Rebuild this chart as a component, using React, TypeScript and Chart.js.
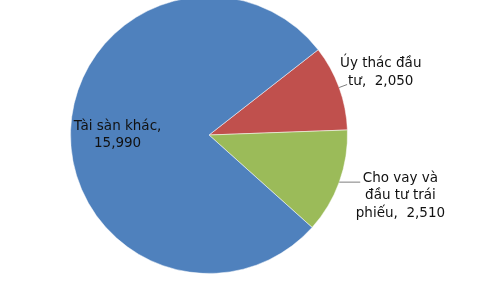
import React, { useEffect, useRef } from "react";
import { Chart, registerables } from "chart.js";

Chart.register(...registerables);

const categories = ["Úy thác đầu tư", "Cho vay và đầu tư trái phiếu", "Tài sàn khác"];
const values = [2050, 2510, 15990];
const labelLines = [
  ["Úy thác đầu", "tư,  2,050"],
  ["Cho vay và", "đầu tư trái", "phiếu,  2,510"],
  ["Tài sàn khác,", "15,990"],
];
const colors = ["#C0504D", "#9BBB59", "#4F81BD"];

// placement of each label relative to its slice (layout only)
const labelPlace = [
  { r: 1.32, angOff: 0, leader: { len: 8, dy: -3 } },
  { r: 1.45, angOff: -2.3, leader: { len: 21, dy: 0 } },
  { r: 0.66, angOff: -2, leader: null },
];

const FONT = "13.5px 'DejaVu Sans'";
const LINE_H = 17.5;

const labelPlugin = {
  id: "pieLabels",
  afterDraw(chart: any) {
    const ctx = chart.ctx;
    const meta = chart.getDatasetMeta(0);
    ctx.save();
    ctx.font = FONT;
    ctx.fillStyle = "#111111";
    ctx.textAlign = "center";
    ctx.textBaseline = "middle";
    meta.data.forEach((arc: any, i: number) => {
      const { x, y, startAngle, endAngle, outerRadius } = arc.getProps(
        ["x", "y", "startAngle", "endAngle", "outerRadius"],
        true
      );
      const place = labelPlace[i];
      const mid = (startAngle + endAngle) / 2;
      const a = mid + (place.angOff * Math.PI) / 180;
      const lx = x + Math.cos(a) * outerRadius * place.r;
      const ly = y + Math.sin(a) * outerRadius * place.r;
      const lines = labelLines[i];
      const top = ly - ((lines.length - 1) * LINE_H) / 2;
      lines.forEach((t, k) => ctx.fillText(t, lx, top + k * LINE_H));
      if (place.leader) {
        const sx = x + Math.cos(mid) * outerRadius;
        const sy = y + Math.sin(mid) * outerRadius;
        ctx.strokeStyle = "#7f7f7f";
        ctx.lineWidth = 1;
        ctx.beginPath();
        ctx.moveTo(sx, sy);
        ctx.lineTo(sx + place.leader.len, sy + place.leader.dy);
        ctx.stroke();
      }
    });
    ctx.restore();
  },
};

export default function App() {
  const ref = useRef<HTMLCanvasElement>(null);
  useEffect(() => {
    document.body.style.margin = "0";
    const chart = new Chart(ref.current!, {
      type: "pie",
      data: {
        labels: categories,
        datasets: [
          {
            data: values,
            backgroundColor: colors,
            borderColor: "rgba(255,255,255,0.5)",
            borderWidth: 1,
          },
        ],
      },
      options: {
        responsive: false,
        animation: false,
        rotation: 52,
        layout: { padding: { left: 70, right: 132, top: 0, bottom: 12 } },
        plugins: {
          legend: { display: false },
          tooltip: { enabled: false },
        },
      },
      plugins: [labelPlugin],
    });
    return () => chart.destroy();
  }, []);
  return (
    <div
      style={{
        position: "fixed",
        left: 0,
        top: 0,
        width: 480,
        height: 281,
        overflow: "hidden",
        background: "#fff",
      }}
    >
      <canvas
        ref={ref}
        width={480}
        height={290}
        style={{ position: "absolute", left: 0, top: -4, width: 480, height: 290 }}
      />
    </div>
  );
}
